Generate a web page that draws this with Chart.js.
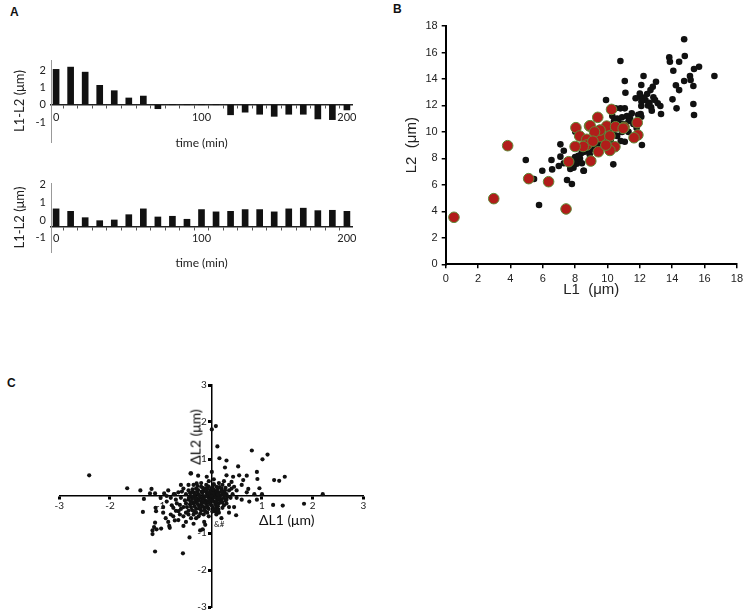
<!DOCTYPE html>
<html>
<head>
<meta charset="utf-8">
<script src="https://cdn.jsdelivr.net/npm/chart.js@4.4.1/dist/chart.umd.min.js"></script>
<style>
  body { margin:0; background:#fff; width:747px; height:616px; position:relative; overflow:hidden; font-family:"Liberation Sans", Arial, sans-serif; }
  canvas { position:absolute; }
  .lbl { position:absolute; font-weight:bold; font-size:12px; color:#111; }
  .txt { position:absolute; white-space:nowrap; color:#111; font-family:Lato, "Open Sans", sans-serif; }
</style>
</head>
<body>
<div class="lbl" style="left:10px;top:5px">A</div>
<div class="lbl" style="left:393px;top:2px">B</div>
<div class="lbl" style="left:7px;top:376px">C</div>

<canvas id="aTop" width="370" height="120" style="left:0;top:40px"></canvas>
<canvas id="aBot" width="370" height="110" style="left:0;top:165px"></canvas>
<canvas id="bScatter" width="367" height="310" style="left:380px;top:0"></canvas>
<canvas id="cScatter" width="380" height="246" style="left:0;top:370px"></canvas>

<div class="txt" style="left:195px;top:437px;font-size:14px;color:#000;transform:translate(-50%,-50%) rotate(-90deg)">ΔL2 (μm)</div>
<div class="txt" style="left:259px;top:511px;font-size:14px">ΔL1 (μm)</div>
<div class="txt" style="left:214px;top:519px;font-size:8px">&amp;#</div>

<script>
// ---- panel A : L1-L2 vs time ----
const timeMin = [0,10,20,30,40,50,60,70,80,90,100,110,120,130,140,150,160,170,180,190,200];
const diffTop = [2.04,2.17,1.88,1.12,0.81,0.39,0.5,-0.23,0,0,0,0,-0.58,-0.43,-0.55,-0.67,-0.55,-0.55,-0.82,-0.86,-0.3];
const diffBottom = [0.64,0.5,0.14,-0.03,0.01,0.31,0.64,0.18,0.22,0.05,0.6,0.47,0.5,0.6,0.6,0.47,0.64,0.68,0.54,0.56,0.5];
const yTicksA = [-1,0,1,2];
const xLabelsA = [0,100,200];

// ---- panel B : L2 vs L1 ----
const bTicks = [0,2,4,6,8,10,12,14,16,18];
const bBlack = [
  [14.74,17.0],[10.8,15.36],[13.82,15.63],[13.86,15.3],[14.78,15.73],[14.43,15.3],[15.66,14.92],[15.35,14.75],
  [16.61,14.22],[12.23,14.22],[14.07,14.62],[15.1,14.22],[15.14,13.92],[14.74,13.84],[14.23,13.52],[15.31,13.47],
  [14.43,13.16],[11.07,13.84],[11.11,12.96],[13.0,13.79],[12.8,13.41],[12.66,13.16],[12.45,12.86],[12.09,13.54],
  [11.99,12.66],[11.74,12.54],[12.35,12.41],[12.84,12.61],[12.94,12.41],[13.11,12.16],[13.27,11.96],[12.7,11.86],
  [12.74,11.6],[13.31,11.35],[14.02,12.46],[14.27,11.78],[15.31,12.11],[15.35,11.28],[9.91,12.41],[12.09,11.96],
  [12.05,11.35],[12.09,11.15],[10.5,11.78],[10.8,11.78],[11.07,11.78],
  [10.3,11.2],[10.6,11.0],[10.9,11.1],[11.2,11.2],[11.4,11.0],[10.7,10.7],[11.0,10.6],[11.3,10.8],[11.6,10.6],
  [11.8,10.3],[10.4,10.8],[11.5,11.4],[11.9,11.3],[12.5,12.0],[12.2,12.6],[12.0,12.9],[12.6,12.2],[12.1,12.3],
  [12.13,9.01],[11.07,9.26],[10.82,9.31],[9.79,9.59],[9.68,9.94],[7.09,9.06],[7.3,8.58],[8.01,10.02],[9.64,9.89],
  [9.74,9.52],[9.34,9.14],[9.44,8.88],[9.95,8.88],[10.36,7.55],[8.54,7.07],[9.2,9.6],[9.5,10.3],[10.1,10.0],
  [10.4,9.8],[10.9,10.0],[11.3,10.0],[9.0,8.9],[8.8,8.6],[8.6,8.5],[8.4,8.4],[8.2,8.2],[8.0,8.1],[7.8,7.9],
  [7.6,7.7],[8.5,8.8],[8.7,9.0],[9.1,8.7],[8.3,8.0],[8.1,7.6],[7.9,7.3],[7.7,7.2],[8.9,8.3],[9.6,9.1],[10.2,9.3],
  [10.6,9.7],
  [4.95,7.88],[5.46,6.44],[5.77,4.48],[5.97,7.07],[6.54,7.88],[6.58,7.17],[7.09,8.13],[6.99,7.42],[7.3,7.63],
  [7.5,6.37],[7.8,6.06],[7.71,7.42],[7.91,7.5],[8.11,7.88],[8.42,7.63],[8.52,7.07],[8.21,8.13]
];
const bRed = [
  [0.51,3.55],[2.97,4.96],[5.13,6.47],[6.36,6.24],[7.44,4.18],[7.6,7.75],[8.97,7.8],[3.83,8.96],[8.05,10.32],
  [9.4,11.1],[10.25,11.7],[8.89,10.44],[9.95,10.44],[10.5,10.39],[11.03,10.35],[11.84,10.7],[11.88,9.77],
  [11.64,9.56],[8.28,9.69],[8.72,9.44],[9.54,9.64],[10.15,9.69],[10.46,8.88],[9.44,8.5],[8.72,9.01],[9.54,10.14],
  [8.93,10.47],[10.97,10.27],[10.15,8.6],[9.9,9.0],[9.2,10.0],[8.5,8.9],[9.1,9.3],[8.0,8.9]
];

// ---- panel C : dL2 vs dL1 ----
const cTicks = [-3,-2,-1,0,1,2,3];
const cPoints = [
  [0.01,1.8],[0.09,1.89],[0.12,1.34],[0.16,1.02],[0.3,0.96],[0.27,0.77],[0.8,1.23],[1.11,1.12],[1.01,0.99],
  [0.53,0.8],[0.9,0.65],[0.91,0.46],[1.24,0.43],[1.34,0.41],[1.45,0.52],[0.95,0.21],[2.2,0.05],[-0.41,0.61],
  [-0.26,0.55],[-0.09,0.52],[-0.45,0.3],[-0.29,0.34],[0.01,0.65],[0.3,0.56],[0.43,0.52],[0.55,0.56],[0.7,0.55],
  [0.4,0.38],[0.63,0.43],[0.73,0.19],[0.6,0.3],
  [-2.41,0.56],[-1.66,0.21],[-1.18,0.19],[-1.11,0.07],[-0.93,0.07],[-0.74,0.05],[-0.4,0.61],
  [-1.33,-0.08],[-1.35,-0.43],[-1.1,-0.32],[-1.09,-0.41],[-1.11,-0.72],[-1.13,-0.84],[-1.16,-0.93],[-1.16,-1.03],
  [-1.08,-0.9],[-0.99,-0.88],[-0.83,-0.81],[-0.82,-0.86],[-0.72,-0.66],[-0.55,-0.81],[-0.43,-1.12],[-1.11,-1.5],
  [-0.56,-1.55],[-0.22,-0.93],[-0.17,-0.9],[-0.14,-0.7],[-0.12,-0.78],[0.49,-0.52],[-1.21,0.07],[-0.75,-0.32],
  [-0.65,-0.41],[-0.88,-0.15],[-0.62,-0.24],[1.22,-0.24],[1.41,-0.26],[1.83,-0.21],[0.14,-0.37],
  [0.35,0.3],[0.45,0.25],[0.5,0.15],[0.7,0.1],[0.85,0.05],[0.6,-0.1],[0.75,-0.15],[0.9,-0.1],[1.0,0.05],
  [0.3,-0.2],[0.45,-0.3],[0.35,-0.45],[0.2,-0.6],[0.1,-0.5],[-0.05,-0.55],[-0.3,-0.6],[-0.45,-0.5],[-0.55,-0.55],
  [-0.35,-0.75],[-0.6,-0.35],[-0.8,-0.5],[-0.9,-0.6],[-0.95,-0.3],[-0.7,-0.1],[-0.85,0.15],[-0.55,0.2],
  [-0.65,0.1],[-1.4,0.15],[-1.0,-0.05],
  [-0.4,-0.3],[-0.35,-0.2],[-0.3,-0.35],[-0.25,-0.25],[-0.2,-0.4],[-0.15,-0.3],[-0.1,-0.2],[-0.05,-0.35],
  [0.0,-0.25],[0.05,-0.15],[0.1,-0.3],[0.15,-0.2],[0.2,-0.1],[0.25,-0.05],[-0.45,-0.1],[-0.4,0.0],[-0.35,0.1],
  [-0.3,-0.05],[-0.25,0.05],[-0.2,-0.15],[-0.15,0.0],[-0.1,0.1],[-0.05,-0.05],[0.0,0.05],[0.05,0.15],[0.1,0.0],
  [0.15,0.1],[0.2,0.2],[0.25,0.1],[0.3,0.05],[-0.3,0.2],[-0.2,0.25],[-0.1,0.3],[0.0,0.2],[0.1,0.25],[0.15,0.35],
  [-0.05,0.4],[-0.15,0.15],[-0.25,-0.1],[-0.12,-0.12],[-0.08,0.02],[0.02,-0.08],[0.07,0.07],[-0.18,0.08],
  [-0.22,-0.05],[0.12,-0.1],[-0.02,0.12],[0.18,0.02],[-0.28,0.12],[-0.32,-0.15],[-0.38,-0.08],[-0.42,0.08],
  [-0.5,-0.2],[-0.5,0.05],[0.3,-0.1],[0.35,0.15],[0.22,0.3],[0.05,0.32],[-0.08,-0.45],[0.08,-0.42],[-0.15,-0.5],
  [0.25,-0.25],[0.38,-0.05],[-0.6,-0.05],[-0.55,-0.3],[0.0,-0.12],[-0.1,0.0],[0.05,0.0],[-0.05,0.08],
  [-0.2,-0.22],[0.1,0.12],[-0.12,0.2],[-0.35,0.3],[0.28,0.22],[0.42,0.05],[-0.3,-0.45],[-0.45,-0.4],[0.15,-0.45],
  [-0.42,-0.22],[-0.38,-0.38],[-0.33,-0.28],[-0.28,-0.2],[-0.24,-0.33],[-0.18,-0.28],[-0.13,-0.38],[-0.08,-0.28],
  [-0.03,-0.2],[0.03,-0.3],[0.08,-0.22],[0.13,-0.28],[0.18,-0.15],[0.22,-0.18],[-0.4,-0.15],[-0.36,-0.02],
  [-0.32,0.05],[-0.27,-0.12],[-0.23,0.0],[-0.17,-0.08],[-0.12,-0.02],[-0.07,-0.15],[-0.02,-0.02],[0.03,0.1],
  [0.08,-0.05],[0.13,0.05],[0.17,-0.05],[0.22,0.08],[0.27,0.15],[-0.37,0.18],[-0.27,0.27],[-0.17,0.22],
  [-0.08,0.18],[0.02,0.25],[0.12,0.18],[0.2,0.12],[-0.45,0.15],[-0.48,-0.3],[-0.52,-0.12],[-0.58,0.12],
  [0.32,-0.02],[0.28,-0.12],[0.22,-0.32],[0.12,-0.38],[0.02,-0.42],[-0.12,-0.42],[-0.22,-0.48],[-0.35,-0.5],
  [-0.25,-0.55],[-0.4,-0.6],[-0.5,-0.45],[-0.62,-0.5],[-0.7,-0.4],[-0.75,-0.55],[-0.65,-0.65],[-0.5,-0.7],
  [-0.85,-0.7],[-0.95,-0.45],[-0.78,-0.25],[-0.68,-0.2],[-0.72,0.05],[-0.8,-0.05],[-0.88,0.0],[-0.6,0.3],
  [-0.2,0.35],[0.05,0.45],[0.25,0.4],[0.35,-0.3],[0.4,0.2],[0.5,-0.05],[-0.06,0.26],[-0.14,-0.18],[-0.19,0.12],
  [0.06,-0.36],[-0.31,-0.08],[-0.01,0.16],[0.16,0.24],[-0.44,-0.04],[-0.34,-0.42],[0.1,-0.16],[0.26,0.02],
  [-0.1,-0.3],[-0.04,-0.1],[0.0,0.0],[-0.16,-0.06],[-0.26,0.16],[0.14,-0.06],[-0.22,-0.35],[0.04,0.18],[-0.38,0.1]
];

Chart.defaults.animation = false;
const toXY = arr => arr.map(p => ({x: p[0], y: p[1]}));
const noPlugins = {legend: {display: false}, tooltip: {enabled: false}};

function barPanel(id, values, yMin, yMax, axisAt, xH, padTop, padBottom) {
  return new Chart(document.getElementById(id), {
    type: 'bar',
    data: {
      datasets: [{
        data: timeMin.map((t, i) => ({x: t, y: values[i]})),
        backgroundColor: '#111',
        barThickness: 6,
        base: axisAt
      }]
    },
    options: {
      responsive: false,
      layout: {padding: {left: 0, right: 18, top: padTop, bottom: padBottom}},
      plugins: noPlugins,
      scales: {
        x: {
          type: 'linear', min: -3.5, max: 203.5, offset: false,
          position: {y: axisAt},
          afterBuildTicks: s => { s.ticks = timeMin.map(v => ({value: v})); },
          afterFit: s => { s.height = xH; },
          ticks: {autoSkip: false, maxRotation: 0, padding: 3, color: '#222',
                  font: {family: 'Lato', size: 11},
                  callback: v => xLabelsA.includes(v) ? String(v) : ''},
          grid: {drawOnChartArea: false, tickLength: 3, color: '#555'},
          border: {color: '#222', width: 1.5},
          title: {display: true, text: 'time (min)', color: '#222', padding: 0,
                  font: {family: 'Lato', size: 12}}
        },
        y: {
          min: yMin, max: yMax,
          afterBuildTicks: s => { s.ticks = yTicksA.map(v => ({value: v})); },
          afterFit: s => { s.width = 51; },
          ticks: {padding: 5, color: '#222', font: {family: 'Lato', size: 11}},
          grid: {drawOnChartArea: false, drawTicks: false},
          border: {color: '#999', width: 1},
          title: {display: true, text: 'L1-L2 (μm)', color: '#222', padding: {top: 12, bottom: 0},
                  font: {family: 'Lato', size: 13}}
        }
      }
    }
  });
}

barPanel('aTop', diffTop, -2.15, 2.58, 0, 46, 20, 18);
barPanel('aBot', diffBottom, -1.81, 2.11, -0.35, 44, 18, 23);

// ---- B ----
new Chart(document.getElementById('bScatter'), {
  type: 'scatter',
  data: {
    datasets: [
      {data: toXY(bRed), pointRadius: 5.3, backgroundColor: '#b11d1a', borderColor: '#5f8a38', borderWidth: 1},
      {data: toXY(bBlack), pointRadius: 3.3, backgroundColor: '#111', borderWidth: 0}
    ]
  },
  options: {
    responsive: false,
    layout: {padding: {left: 0, right: 7, top: 26, bottom: 0}},
    plugins: noPlugins,
    scales: {
      x: {
        min: 0, max: 18,
        afterBuildTicks: s => { s.ticks = bTicks.map(v => ({value: v})); },
        afterFit: s => { s.height = 45.7; },
        ticks: {padding: 4, color: '#222', maxRotation: 0, font: {family: 'Liberation Sans', size: 11}},
        grid: {drawOnChartArea: false, tickLength: 4, color: '#000', lineWidth: 1.5},
        border: {color: '#000', width: 2},
        title: {display: true, text: 'L1  (μm)', color: '#222', padding: {top: 0, bottom: 11},
                font: {family: 'Liberation Sans', size: 15}}
      },
      y: {
        min: 0, max: 18,
        afterBuildTicks: s => { s.ticks = bTicks.map(v => ({value: v})); },
        afterFit: s => { s.width = 65.7; },
        ticks: {padding: 4, color: '#222', font: {family: 'Liberation Sans', size: 11}},
        grid: {drawOnChartArea: false, tickLength: 4, color: '#000', lineWidth: 1.5},
        border: {color: '#000', width: 2},
        title: {display: true, text: 'L2  (μm)', color: '#222', padding: {top: 23, bottom: 0},
                font: {family: 'Liberation Sans', size: 15}}
      }
    }
  }
});

// ---- C ----
new Chart(document.getElementById('cScatter'), {
  type: 'scatter',
  data: {
    datasets: [{data: toXY(cPoints), pointRadius: 2.1, backgroundColor: '#111', borderWidth: 0}]
  },
  options: {
    responsive: false,
    layout: {padding: {left: 59.3, right: 16.7, top: 15, bottom: 5.3}},
    plugins: noPlugins,
    scales: {
      x: {
        min: -3, max: 3, position: {y: 0},
        afterBuildTicks: s => { s.ticks = cTicks.map(v => ({value: v})); },
        ticks: {padding: 1, color: '#222', maxRotation: 0, font: {family: 'Lato', size: 10},
                callback: v => v === 0 ? '' : String(v)},
        grid: {drawOnChartArea: false, tickLength: 3, tickWidth: 3, color: '#000'},
        border: {color: '#000', width: 1.5}
      },
      y: {
        min: -3, max: 3, position: {x: 0},
        afterBuildTicks: s => { s.ticks = cTicks.map(v => ({value: v})); },
        ticks: {display: false},
        grid: {drawOnChartArea: false, tickLength: 3, tickWidth: 3, color: '#000'},
        border: {color: '#000', width: 1.5}
      },
      // labels of the vertical axis, set just left of the axis line
      yLab: {
        axis: 'y', min: -3, max: 3, position: {x: -0.09},
        afterBuildTicks: s => { s.ticks = cTicks.map(v => ({value: v})); },
        ticks: {color: '#222', font: {family: 'Lato', size: 10},
                callback: v => v === 0 ? '' : String(v)},
        grid: {display: false},
        border: {display: false}
      }
    }
  }
});
</script>
</body>
</html>
